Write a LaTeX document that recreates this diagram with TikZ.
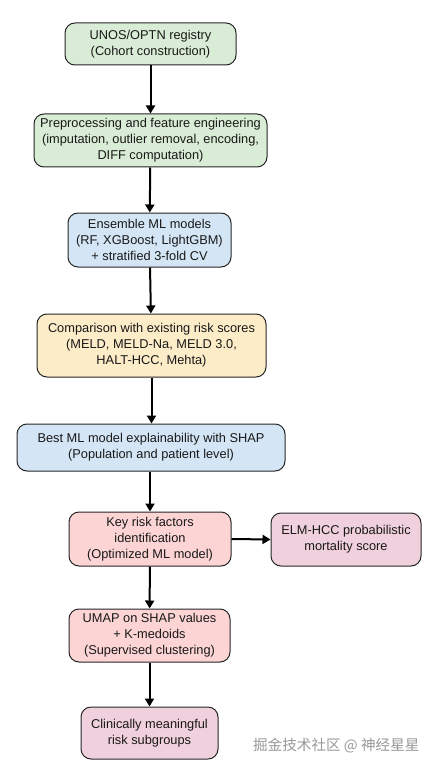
\documentclass[tikz,border=0pt]{standalone}
\usepackage{fontspec}
\setmainfont{Liberation Sans}
\newfontfamily\cjk{Noto Sans CJK SC}
\usetikzlibrary{arrows.meta}
\definecolor{cgreen}{HTML}{D9ECD5}
\definecolor{cblue}{HTML}{D4E6F6}
\definecolor{cyellow}{HTML}{FCECC8}
\definecolor{cred}{HTML}{FCD4D4}
\definecolor{cmauve}{HTML}{F0D0DC}
\tikzset{
  box/.style={draw=black!85, line width=1pt, rounded corners=10pt, align=center,
    font=\fontsize{12.8pt}{16pt}\selectfont, inner sep=0pt, text=black!90},
  flow/.style={-{Triangle[length=8pt,width=9pt]}, line width=2pt, black}
}
\begin{document}
\begin{tikzpicture}[x=1pt,y=-1pt]
\useasboundingbox (0,0) rectangle (438,770);
\fill[white] (0,0) rectangle (438,770);
\node[box, fill=cgreen, minimum width=171pt, minimum height=42pt] (n1) at (150.5,44) {UNOS/OPTN registry\\(Cohort construction)};
\node[box, fill=cgreen, minimum width=233pt, minimum height=53pt] (n2) at (150.5,140.5) {Preprocessing and feature engineering\\(imputation, outlier removal, encoding,\\DIFF computation)};
\node[box, fill=cblue, minimum width=163pt, minimum height=54pt] (n3) at (149.5,240) {Ensemble ML models\\(RF, XGBoost, LightGBM)\\+ stratified 3-fold CV};
\node[box, fill=cyellow, minimum width=229pt, minimum height=63pt] (n4) at (151.5,345.5) {Comparison with existing risk scores\\(MELD, MELD-Na, MELD 3.0,\\HALT-HCC, Mehta)};
\node[box, fill=cblue, minimum width=268pt, minimum height=47pt] (n5) at (151,447.5) {Best ML model explainability with SHAP\\(Population and patient level)};
\node[box, fill=cred, minimum width=162pt, minimum height=54pt] (n6) at (150,539) {Key risk factors\\identification\\(Optimized ML model)};
\node[box, fill=cmauve, minimum width=150pt, minimum height=53pt] (n9) at (346,539.5) {ELM-HCC probabilistic\\mortality score};
\node[box, fill=cred, minimum width=161pt, minimum height=53pt] (n7) at (149.5,635.5) {UMAP on SHAP values\\+ K-medoids\\(Supervised clustering)};
\node[box, fill=cmauve, minimum width=137pt, minimum height=52pt] (n8) at (149.5,733) {Clinically meaningful\\risk subgroups};
\draw[flow] (n1) -- (n2);
\draw[flow] (n2) -- (n3);
\draw[flow] (n3) -- (n4);
\draw[flow] (n4.south) -- (n4.south |- n5.north);
\draw[flow] (n5.south -| n6.north) -- (n6.north);
\draw[flow] (n6.east) -- (n9.west);
\draw[flow] (n6) -- (n7);
\draw[flow] (n7) -- (n8);
\node[text=black!40, font=\cjk\fontsize{14.6pt}{16pt}\selectfont, anchor=east] (wm) at (423,746) {掘金技术社区 @ 神经星星};
\end{tikzpicture}
\end{document}
